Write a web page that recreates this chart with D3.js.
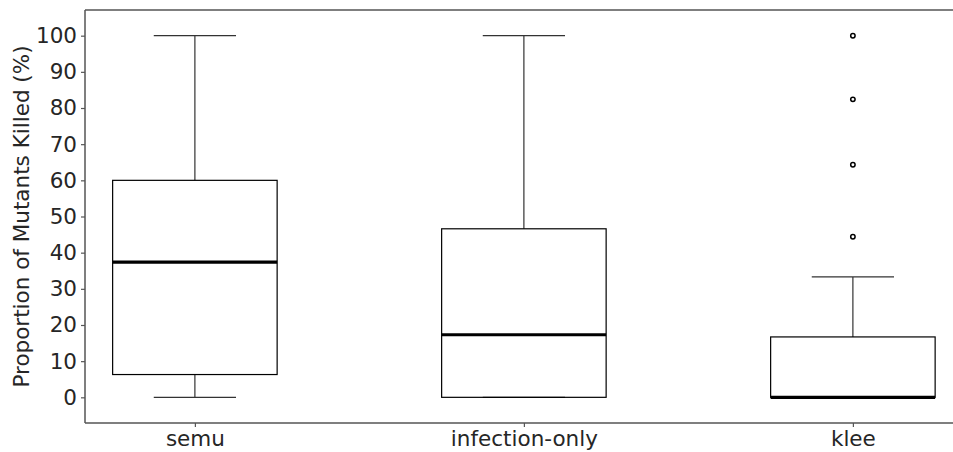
<html>
<script src='https://d3js.org/d3.v7.min.js'></script>
<style>
  body { margin: 0; background: white; }
  text { font-family: 'DejaVu Sans', sans-serif; }
</style>
<body>
<svg id="chart" width="953" height="452"></svg>
<script>
// box stats per tool
const categories = ["semu", "infection-only", "klee"];
const whiskerLow = [0, 0, 0];
const q1 = [6.3, 0, 0];
const median = [37.4, 17.3, 0];
const q3 = [60, 46.6, 16.7];
const whiskerHigh = [100, 100, 33.3];
const outliers = [[], [], [44.4, 64.3, 82.4, 100]];
const yTicks = [0, 10, 20, 30, 40, 50, 60, 70, 80, 90, 100];

var W = 953, H = 452;
var mLeft = 85, mTop = 10, mBottom = 423;

var svg = d3.select("#chart");

var x = d3.scaleLinear().domain([-0.334, 2.334]).range([mLeft, mLeft + 2.668 * 329]);
var y = d3.scaleLinear().domain([-7.1, 107.1]).range([mBottom, mTop]);

var boxW = x(0.25) - x(0), capW = x(0.125) - x(0);

// y axis
var yAxis = svg.append("g").attr("transform", "translate(" + mLeft + ",0)")
  .call(d3.axisLeft(y).tickValues(yTicks).tickSize(4).tickPadding(4));
yAxis.select(".domain").remove();
yAxis.selectAll("line").attr("stroke", "#555").attr("stroke-width", 1.2);
yAxis.selectAll("text").attr("font-size", 21.5).attr("fill", "#262626")
  .attr("font-family", "DejaVu Sans");

// x axis
var xAxis = svg.append("g").attr("transform", "translate(0," + mBottom + ")")
  .call(d3.axisBottom(x).tickValues([0, 1, 2]).tickFormat(function(d) { return categories[d]; })
    .tickSize(4).tickPadding(4));
xAxis.select(".domain").remove();
xAxis.selectAll("line").attr("stroke", "#555").attr("stroke-width", 1.2);
xAxis.selectAll("text").attr("font-size", 21.5).attr("fill", "#262626")
  .attr("font-family", "DejaVu Sans");

// spines: left, top, bottom (right one falls outside the picture)
svg.append("line").attr("x1", mLeft).attr("x2", mLeft).attr("y1", mTop).attr("y2", mBottom)
  .attr("stroke", "#555").attr("stroke-width", 1.5);
svg.append("line").attr("x1", mLeft).attr("x2", W + 10).attr("y1", mTop).attr("y2", mTop)
  .attr("stroke", "#555").attr("stroke-width", 1.5);
svg.append("line").attr("x1", mLeft).attr("x2", W + 10).attr("y1", mBottom).attr("y2", mBottom)
  .attr("stroke", "#555").attr("stroke-width", 1.5);

// y label
svg.append("text")
  .attr("transform", "translate(29," + ((mTop + mBottom) / 2) + ") rotate(-90)")
  .attr("text-anchor", "middle")
  .attr("font-size", 21.5)
  .attr("fill", "#262626")
  .text("Proportion of Mutants Killed (%)");

var g = svg.append("g");
categories.forEach(function(c, i) {
  var cx = x(i);
  // whiskers
  g.append("line").attr("x1", cx).attr("x2", cx).attr("y1", y(q3[i])).attr("y2", y(whiskerHigh[i]))
    .attr("stroke", "#333").attr("stroke-width", 1.2);
  g.append("line").attr("x1", cx).attr("x2", cx).attr("y1", y(q1[i])).attr("y2", y(whiskerLow[i]))
    .attr("stroke", "#333").attr("stroke-width", 1.2);
  // caps
  [whiskerLow[i], whiskerHigh[i]].forEach(function(v) {
    g.append("line").attr("x1", cx - capW).attr("x2", cx + capW).attr("y1", y(v)).attr("y2", y(v))
      .attr("stroke", "#333").attr("stroke-width", 1.2);
  });
  // box
  g.append("rect").attr("x", cx - boxW).attr("width", 2 * boxW)
    .attr("y", y(q3[i])).attr("height", y(q1[i]) - y(q3[i]))
    .attr("fill", "none").attr("stroke", "black").attr("stroke-width", 1.2);
  // median
  g.append("line").attr("x1", cx - boxW).attr("x2", cx + boxW).attr("y1", y(median[i])).attr("y2", y(median[i]))
    .attr("stroke", "black").attr("stroke-width", 3.2);
  // fliers
  g.selectAll(null).data(outliers[i]).enter().append("circle")
    .attr("cx", cx).attr("cy", function(d) { return y(d); }).attr("r", 2.2)
    .attr("fill", "white").attr("stroke", "black").attr("stroke-width", 1.5);
});
</script>
</body>
</html>
